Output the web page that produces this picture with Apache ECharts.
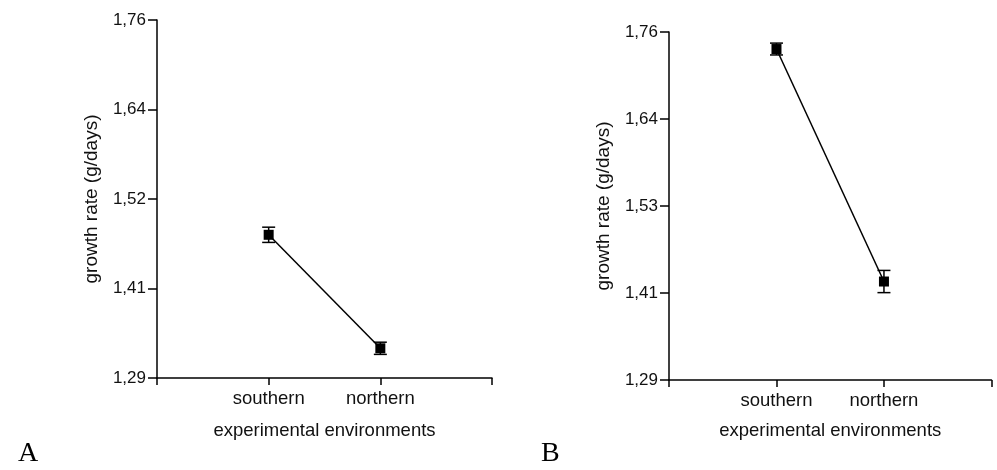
<!DOCTYPE html>
<html>
<head>
<meta charset="utf-8">
<script src="https://cdn.jsdelivr.net/npm/echarts@6/dist/echarts.min.js"></script>
<style>
    html, body { margin: 0; padding: 0; background: #fff; }
    #chart { width: 997px; height: 470px; }
</style>
</head>
<body>
<div id="chart"></div>
<script>
// values
var categories = ['southern', 'northern'];
var meansA = [1.478, 1.329];
var errA = [0.010, 0.008];
var meansB = [1.737, 1.423];
var errB = [0.008, 0.015];

var yMin = 1.29;
var yMax = 1.76;
var tickValues = [1.29, 1.4075, 1.525, 1.6425, 1.76];
var tickLabelsA = ['1,29', '1,41', '1,52', '1,64', '1,76'];
var tickLabelsB = ['1,29', '1,41', '1,53', '1,64', '1,76'];

var font = 'Liberation Sans, Arial, sans-serif';
var ink = '#111';

function nearestLabel(labels, v) {
    var best = 0;
    for (var i = 1; i < tickValues.length; i++) {
        if (Math.abs(tickValues[i] - v) < Math.abs(tickValues[best] - v)) best = i;
    }
    return labels[best];
}

function xAxisTpl(idx, gap) {
    return {
        type: 'category',
        gridIndex: idx,
        boundaryGap: false,
        data: [''].concat(categories).concat([' ']),
        name: 'experimental environments',
        nameLocation: 'middle',
        nameGap: gap,
        nameTextStyle: { fontFamily: font, fontSize: 18.5, color: ink },
        axisLine: { lineStyle: { color: '#000', width: 1.5 } },
        axisTick: { show: true, alignWithLabel: true, interval: 0, length: 7, lineStyle: { color: '#000', width: 1.5 } },
        axisLabel: { interval: 0, margin: 11, fontFamily: font, fontSize: 18.5, color: ink },
        splitLine: { show: false }
    };
}

function yAxisTpl(idx, labels) {
    return {
        type: 'value',
        gridIndex: idx,
        min: yMin,
        max: yMax,
        name: 'growth rate (g/days)',
        nameLocation: 'middle',
        nameRotate: 90,
        nameGap: 56,
        nameTextStyle: { fontFamily: font, fontSize: 19, color: ink },
        axisLine: { show: true, lineStyle: { color: '#000', width: 1.5 } },
        axisTick: { show: true, length: 9, customValues: tickValues, lineStyle: { color: '#000', width: 1.5 } },
        axisLabel: {
            margin: 11,
            fontFamily: font,
            fontSize: 17,
            color: ink,
            customValues: tickValues,
            formatter: function (v) { return nearestLabel(labels, v); }
        },
        splitLine: { show: false }
    };
}

function errorBars(idx, means, errs) {
    return {
        type: 'custom',
        xAxisIndex: idx,
        yAxisIndex: idx,
        z: 1,
        encode: { x: 0, y: [1, 2] },
        data: means.map(function (m, i) { return [i + 1, m - errs[i], m + errs[i]]; }),
        renderItem: function (params, api) {
            var lo = api.coord([api.value(0), api.value(1)]);
            var hi = api.coord([api.value(0), api.value(2)]);
            var half = 6.5;
            var style = { stroke: '#000', lineWidth: 1.5 };
            return {
                type: 'group',
                children: [
                    { type: 'line', shape: { x1: hi[0], y1: hi[1], x2: lo[0], y2: lo[1] }, style: style },
                    { type: 'line', shape: { x1: hi[0] - half, y1: hi[1], x2: hi[0] + half, y2: hi[1] }, style: style },
                    { type: 'line', shape: { x1: lo[0] - half, y1: lo[1], x2: lo[0] + half, y2: lo[1] }, style: style }
                ]
            };
        }
    };
}

function meanLine(idx, means) {
    return {
        type: 'line',
        xAxisIndex: idx,
        yAxisIndex: idx,
        z: 3,
        symbol: 'rect',
        symbolSize: 10,
        itemStyle: { color: '#000' },
        lineStyle: { color: '#000', width: 1.5 },
        data: means.map(function (m, i) { return [i + 1, m]; })
    };
}

var chart = echarts.init(document.getElementById('chart'), null, { renderer: 'canvas' });

chart.setOption({
    animation: false,
    backgroundColor: '#fff',
    grid: [
        { left: 157, top: 20, width: 335, height: 358 },
        { left: 669, top: 32, width: 326, height: 348 }
    ],
    xAxis: [xAxisTpl(0, 43), xAxisTpl(1, 41)],
    yAxis: [yAxisTpl(0, tickLabelsA), yAxisTpl(1, tickLabelsB)],
    graphic: [
        { type: 'text', left: 18, top: 440, style: { text: 'A', fontFamily: 'Liberation Serif, Times New Roman, serif', fontSize: 28, fill: '#000' } },
        { type: 'text', left: 541, top: 440, style: { text: 'B', fontFamily: 'Liberation Serif, Times New Roman, serif', fontSize: 28, fill: '#000' } }
    ],
    series: [
        errorBars(0, meansA, errA),
        meanLine(0, meansA),
        errorBars(1, meansB, errB),
        meanLine(1, meansB)
    ]
});
</script>
</body>
</html>
